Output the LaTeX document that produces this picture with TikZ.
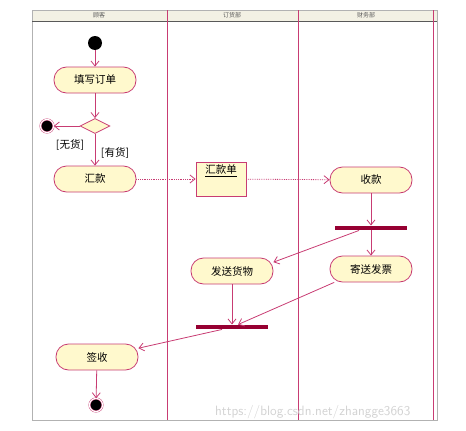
\documentclass[tikz,border=0pt]{standalone}
\usepackage{fontspec}
\newfontfamily\cjk{Noto Sans CJK SC}
\usetikzlibrary{positioning,shapes.geometric,arrows.meta}
\definecolor{umlline}{RGB}{200,60,115}
\definecolor{umlfill}{RGB}{255,249,205}
\definecolor{umlbar}{RGB}{150,0,50}
\definecolor{headfill}{RGB}{243,241,228}

\begin{document}
\begin{tikzpicture}[
    x=1pt, y=-1pt,
    action/.style={
        rectangle,
        rounded corners=12.5pt,
        draw=umlline,
        fill=umlfill,
        line width=0.8pt,
        minimum width=82pt,
        minimum height=26pt,
        inner sep=1pt,
        font=\cjk\fontsize{10.5}{12}\selectfont
    },
    objbox/.style={
        rectangle,
        draw=umlline,
        fill=umlfill,
        line width=0.8pt,
        minimum width=50pt,
        minimum height=34pt,
        align=center
    },
    syncbar/.style={
        rectangle,
        fill=umlbar,
        minimum width=72pt,
        minimum height=4.5pt,
        inner sep=0pt
    },
    startnode/.style={circle, fill=black, minimum size=14pt, inner sep=0pt},
    endnode/.style={circle, fill=black, draw=umlline, double=white,
        double distance=1.2pt, minimum size=13pt, inner sep=0pt},
    choice/.style={diamond, draw=umlline, fill=umlfill, line width=0.8pt,
        minimum width=30pt, minimum height=15pt, inner sep=0pt},
    guard/.style={font=\cjk\fontsize{10.5}{12}\selectfont, inner sep=1pt},
    lane/.style={draw=umlline, line width=0.8pt},
    arrow/.style={-{Straight Barb[length=5pt,width=8pt]}, draw=umlline, line width=0.8pt},
    objflow/.style={arrow, densely dotted}
]
    \useasboundingbox (0,0) rectangle (466,431);

    % Swimlanes
    \fill[headfill] (32,10) rectangle (437,21);
    \draw[gray!60] (32,10) rectangle (437,420);
    \draw[gray!70!black, line width=1.2pt] (32,21.5) -- (437,21.5);
    \foreach \lx in {167.5,298.5,433.5}
        \draw[lane] (\lx,10) -- (\lx,420);
    \node[font=\cjk\fontsize{6}{7}\selectfont, text=gray!70!black] (laneA) at (99,15.5) {顾客};
    \node[font=\cjk\fontsize{6}{7}\selectfont, text=gray!70!black] (laneB) at (232,15.5) {订货部};
    \node[font=\cjk\fontsize{6}{7}\selectfont, text=gray!70!black] (laneC) at (366,15.5) {财务部};

    % Customer
    \node[startnode] (start) at (95,43) {};
    \node[action] (fill) at (95,80) {填写订单};
    \node[choice] (check) at (95,126) {};
    \node[endnode] (stop1) at (47,126) {};
    \node[action] (pay) at (95,179) {汇款};
    \node[guard] (nogoods) at (70,145) {[无货]};
    \node[guard] (goods) at (115,153) {[有货]};

    % Order department / finance
    \node[objbox] (slip) at (221,179) {};
    \node[font=\cjk\fontsize{10.5}{12}\selectfont, inner sep=0pt] (sliptext) at (221,171) {\underline{汇款单}};
    \node[action] (receive) at (371,180) {收款};
    \node[syncbar] (fork) at (371,228) {};
    \node[action] (ship) at (232,271) {发送货物};
    \node[action] (invoice) at (371,269) {寄送发票};
    \node[syncbar] (join) at (232,327) {};
    \node[action] (sign) at (97,357) {签收};
    \node[endnode] (stop2) at (96,405) {};

    % Arrows
    \draw[arrow] (start) -- (fill);
    \draw[arrow] (fill) -- (check);
    \draw[arrow] (check) -- (stop1);
    \draw[arrow] (check) -- (pay);
    \draw[objflow] (pay) -- (slip);
    \draw[objflow] (slip) -- (receive);
    \draw[arrow] (receive) -- (fork);
    \draw[arrow] (fork) -- (invoice);
    \draw[arrow] ([xshift=-12pt]fork.south) -- (ship.12);
    \draw[arrow] (ship) -- (join);
    \draw[arrow] (invoice.200) -- ([xshift=6pt]join.north);
    \draw[arrow] ([xshift=-10pt]join.south) -- (sign.12);
    \draw[arrow] (sign) -- (stop2);

    % Watermark
    \node[anchor=west, font=\fontsize{13.5}{14}\selectfont\sffamily, text=gray!35, inner sep=0pt]
        (mark) at (215,412) {https://blog.csdn.net/zhangge3663};
\end{tikzpicture}
\end{document}
